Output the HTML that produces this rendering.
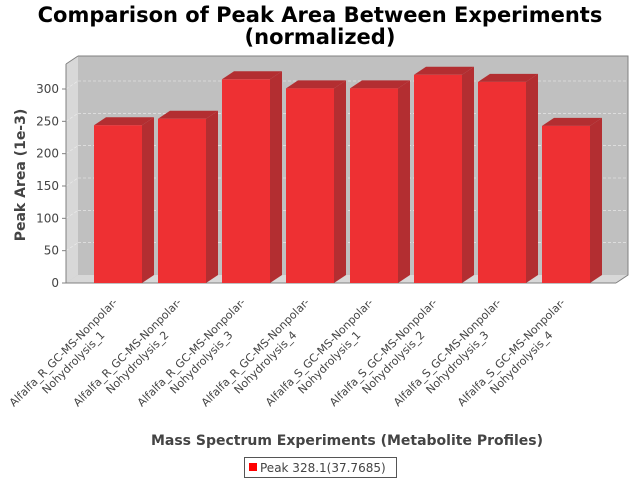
<!DOCTYPE html>
<html><head><meta charset="utf-8"><style>
body{margin:0;background:#fff}
svg text{font-family:"DejaVu Sans","Liberation Sans",sans-serif;fill:#444}
</style></head><body>
<svg id="c" width="640" height="480" xmlns="http://www.w3.org/2000/svg">
<text x="320" y="22" text-anchor="middle" font-size="21" font-weight="bold" style="fill:#000">Comparison of Peak Area Between Experiments</text>
<text x="320" y="44" text-anchor="middle" font-size="21" font-weight="bold" style="fill:#000">(normalized)</text>
<polygon points="66,64 78,56 628,56 628,275 616,283 66,283" fill="#c0c0c0"/>
<polygon points="66,64 78,56 78,275 66,283" fill="#d8d8d8"/>
<polygon points="66,283 78,275 628,275 616,283" fill="#d8d8d8"/>
<polyline points="78,56 628,56 628,275 616,283" fill="none" stroke="#808080"/>
<polyline points="66,64 78,56" fill="none" stroke="#808080"/>
<g id="grid"></g>
<line x1="66" y1="64" x2="66" y2="283" stroke="#808080"/>
<line x1="66" y1="283" x2="616" y2="283" stroke="#808080"/>
<g id="bars"></g>
<g id="labels"></g>
<text transform="translate(25,175) rotate(-90)" text-anchor="middle" font-size="14" font-weight="bold">Peak Area (1e-3)</text>
<text x="347" y="445" text-anchor="middle" font-size="14" font-weight="bold">Mass Spectrum Experiments (Metabolite Profiles)</text>
<g>
<rect x="244.5" y="457.5" width="152" height="20" fill="#fff" stroke="#555"/>
<rect x="249" y="463" width="8" height="8" fill="#ff0000"/>
<text x="260" y="472" font-size="12">Peak 328.1(37.7685)</text>
</g>
</svg>
<script>
const categories=["Alfalfa_R_GC-MS-Nonpolar-|Nohydrolysis_1","Alfalfa_R_GC-MS-Nonpolar-|Nohydrolysis_2","Alfalfa_R_GC-MS-Nonpolar-|Nohydrolysis_3","Alfalfa_R_GC-MS-Nonpolar-|Nohydrolysis_4","Alfalfa_S_GC-MS-Nonpolar-|Nohydrolysis_1","Alfalfa_S_GC-MS-Nonpolar-|Nohydrolysis_2","Alfalfa_S_GC-MS-Nonpolar-|Nohydrolysis_3","Alfalfa_S_GC-MS-Nonpolar-|Nohydrolysis_4"];
const values=[244,254,315,301,301,322,311,243];
const yTicks=[0,50,100,150,200,250,300];
const NS="http://www.w3.org/2000/svg";
const y0=283, k=194/300, dx=12, dy=-8;
function yScale(v){return y0-v*k;}
function xScale(i){return 94+64*i;}
function mk(t,a,p){const e=document.createElementNS(NS,t);for(const n in a)e.setAttribute(n,a[n]);p.appendChild(e);return e;}
const grid=document.getElementById('grid');
yTicks.forEach(v=>{
 const y=yScale(v);
 if(v>0){const g=mk('line',{x1:78,y1:y+dy,x2:628,y2:y+dy,stroke:'#eee','stroke-dasharray':'3,2','stroke-width':0.6},grid);
 
 
 const g2=mk('line',{x1:66,y1:y,x2:78,y2:y+dy,stroke:'#eee','stroke-dasharray':'3,2','stroke-width':0.6},grid);
 
 }
 const tk=mk('line',{x1:62,y1:y,x2:66,y2:y,stroke:'#808080'},grid);
 
 
 const t=mk('text',{x:59,y:y+4,'text-anchor':'end','font-size':12},grid);
 t.textContent=v;
 
 
});
const bars=document.getElementById('bars');
values.forEach((v,i)=>{
 const x=xScale(i),w=48,y=yScale(v);
 const g=mk('g',{},bars);
 
 
 mk('polygon',{points:`${x+w},${y} ${x+w+dx},${y+dy} ${x+w+dx},${y0+dy} ${x+w},${y0}`,fill:'#b32e31'},g);
 mk('polygon',{points:`${x},${y} ${x+dx},${y+dy} ${x+w+dx},${y+dy} ${x+w},${y}`,fill:'#b32e31'},g);
 mk('rect',{x:x,y:y,width:w,height:y0-y,fill:'#ee3033'},g);
});
const labels=document.getElementById('labels');
categories.forEach((c,i)=>{
 const parts=c.split('|');
 const t1=mk('text',{transform:`translate(${66+64*i},355) rotate(-45)`,'text-anchor':'middle','font-size':11},labels);
 t1.textContent=parts[0];
 
 
 const t2=mk('text',{transform:`translate(${76+64*i},365) rotate(-45)`,'text-anchor':'middle','font-size':11},labels);
 t2.textContent=parts[1];
 
 
});
</script>
</body></html>
